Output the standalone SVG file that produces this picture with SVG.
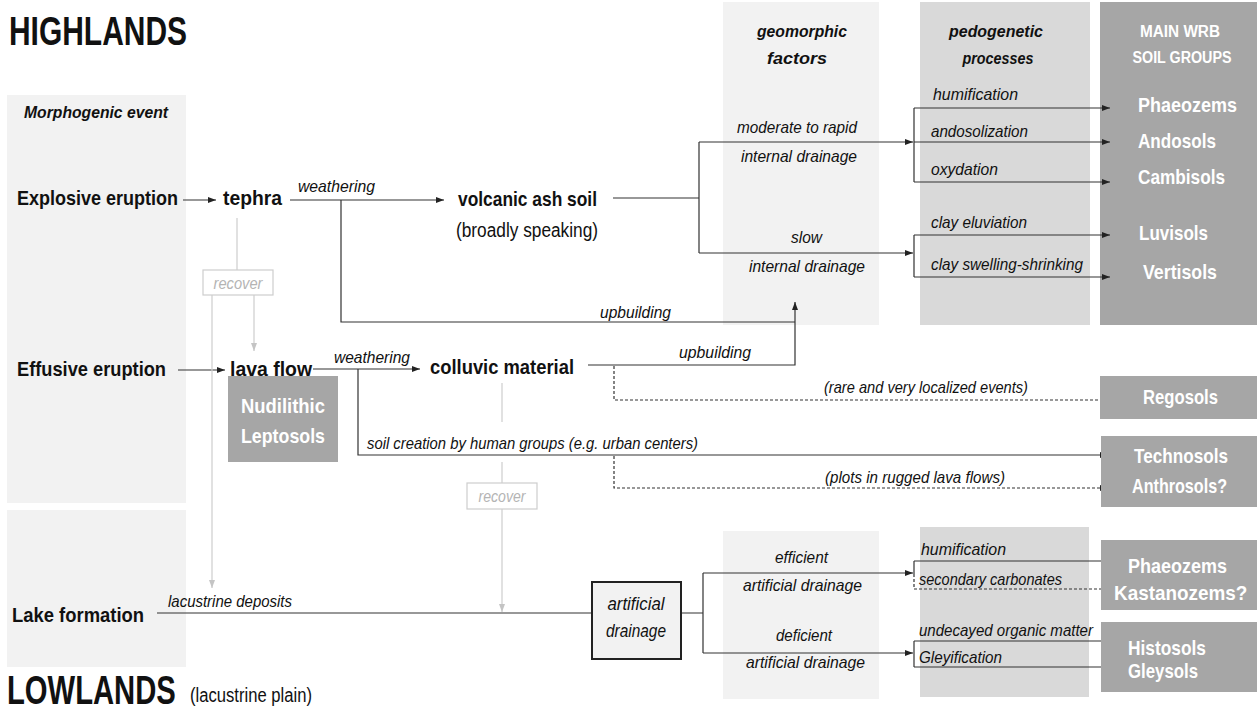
<svg xmlns="http://www.w3.org/2000/svg" width="1257" height="711" viewBox="0 0 1257 711">
<defs>
<style>
text{font-family:'Liberation Sans Narrow','Liberation Sans',Arial,sans-serif;fill:#111}
.title{font-size:41px;font-weight:bold}
.b{font-size:21px;font-weight:bold}
.r{font-size:20px}
.i{font-size:17px;font-style:italic}
.bi{font-size:17px;font-weight:bold;font-style:italic}
.w{font-size:21px;font-weight:bold;fill:#fff}
.wh{font-size:16px;font-weight:bold;fill:#fff}
.g{font-size:16px;font-style:italic;fill:#b4b4b4}
.c{text-anchor:middle}
.p1{fill:#f2f2f2}
.p2{fill:#d9d9d9}
.p3{fill:#a6a6a6}
.ln{fill:none;stroke:#333;stroke-width:1.2}
.ar{marker-end:url(#ah)}
.ds{stroke-dasharray:3,2}
.gl{fill:none;stroke:#cdcdcd;stroke-width:1.2}
.ga{marker-end:url(#gh)}
.gb{fill:#fff;stroke:#cdcdcd;stroke-width:1.2}
</style>
<marker id="ah" viewBox="0 0 8 6" refX="8" refY="3" markerWidth="8" markerHeight="6" markerUnits="userSpaceOnUse" orient="auto"><path d="M0,0 L8,3 L0,6 z" fill="#222"/></marker>
<marker id="gh" viewBox="0 0 8 6" refX="8" refY="3" markerWidth="8" markerHeight="6" markerUnits="userSpaceOnUse" orient="auto"><path d="M0,0 L8,3 L0,6 z" fill="#c4c4c4"/></marker>
</defs>
<rect width="1257" height="711" fill="#fff"/>

<g id="panels">
<rect class="p1" x="7" y="95" width="179" height="408"/>
<rect class="p1" x="7" y="510" width="179" height="157"/>
<rect class="p1" x="723" y="2" width="156" height="323"/>
<rect class="p2" x="920" y="2" width="170" height="323"/>
<rect class="p3" x="1100" y="2" width="157" height="323"/>
<rect class="p1" x="723" y="531" width="156" height="168"/>
<rect class="p2" x="920" y="527" width="169" height="170"/>
</g>

<g id="titles">
<text class="title" x="9" y="45" textLength="178" lengthAdjust="spacingAndGlyphs">HIGHLANDS</text>
<text class="title" transform="translate(7,704) scale(0.713,1)">LOWLANDS</text>
<text class="r" x="190" y="702" textLength="122" lengthAdjust="spacingAndGlyphs">(lacustrine plain)</text>
<text class="bi" x="24" y="118" textLength="144" lengthAdjust="spacingAndGlyphs">Morphogenic event</text>
<text class="bi c" x="802" y="37" textLength="90" lengthAdjust="spacingAndGlyphs">geomorphic</text>
<text class="bi c" x="797" y="64" textLength="60" lengthAdjust="spacingAndGlyphs">factors</text>
<text class="bi c" x="996" y="37" textLength="94" lengthAdjust="spacingAndGlyphs">pedogenetic</text>
<text class="bi c" x="998" y="64" textLength="71" lengthAdjust="spacingAndGlyphs">processes</text>
<text class="wh c" x="1180" y="37" textLength="80" lengthAdjust="spacingAndGlyphs">MAIN WRB</text>
<text class="wh c" x="1182" y="63" textLength="99" lengthAdjust="spacingAndGlyphs">SOIL GROUPS</text>
</g>

<g id="connectors">
<path class="ln ar" d="M183,200 H216"/>
<path class="ln ar" d="M290,200 H444"/>
<path class="ln" d="M341,200 V322 H795"/>
<path class="ln ar" d="M588,365 H795 V302"/>
<path class="ln" d="M613,198 H699 M699,142 V253"/>
<path class="ln ar" d="M699,142 H913"/>
<path class="ln ar" d="M699,253 H913"/>
<path class="ln" d="M914,108 V182 M914,235 V277"/>
<path class="ln ar" d="M914,108 H1110"/>
<path class="ln ar" d="M914,142 H1110"/>
<path class="ln ar" d="M914,182 H1110"/>
<path class="ln ar" d="M914,235 H1110"/>
<path class="ln ar" d="M914,277 H1110"/>
<path class="ln ar" d="M178,370 H225"/>
<path class="ln ar" d="M313,369 H420"/>
<path class="ln ar" d="M358,369 V455 H1108"/>
<path class="ln ds ar" d="M614,366 V400 H1108"/>
<path class="ln ds ar" d="M614,456 V488 H1108"/>
<path class="gl" d="M237,218 V270"/>
<path class="gl ga" d="M212,295 V588"/>
<path class="gl ga" d="M254,295 V351"/>
<path class="gl" d="M502,383 V422 M502,462 V483"/>
<path class="gl ga" d="M502,509 V612"/>
<path class="ln" d="M157,613 H592"/>
<path class="ln" d="M682,613 H703 M703,573 V653"/>
<path class="ln ar" d="M703,573 H913"/>
<path class="ln ar" d="M703,653 H913"/>
<path class="ln" d="M914,561 V574"/>
<path class="ln ds" d="M914,574 V589"/>
<path class="ln ar" d="M914,561 H1110"/>
<path class="ln ds ar" d="M914,589 H1110"/>
<path class="ln" d="M914,641 V667"/>
<path class="ln ar" d="M914,641 H1110"/>
<path class="ln ar" d="M914,667 H1110"/>
</g>

<g id="edge-labels">
<text class="i" x="298" y="192" textLength="77" lengthAdjust="spacingAndGlyphs">weathering</text>
<text class="i" x="334" y="363" textLength="76" lengthAdjust="spacingAndGlyphs">weathering</text>
<text class="i" x="600" y="318" textLength="71" lengthAdjust="spacingAndGlyphs">upbuilding</text>
<text class="i" x="679" y="358" textLength="72" lengthAdjust="spacingAndGlyphs">upbuilding</text>
<text class="i" x="737" y="133" textLength="120" lengthAdjust="spacingAndGlyphs">moderate to rapid</text>
<text class="i" x="741" y="162" textLength="116" lengthAdjust="spacingAndGlyphs">internal drainage</text>
<text class="i" x="791" y="243" textLength="31" lengthAdjust="spacingAndGlyphs">slow</text>
<text class="i" x="749" y="272" textLength="116" lengthAdjust="spacingAndGlyphs">internal drainage</text>
<text class="i" x="933" y="100" textLength="85" lengthAdjust="spacingAndGlyphs">humification</text>
<text class="i" x="931" y="137" textLength="97" lengthAdjust="spacingAndGlyphs">andosolization</text>
<text class="i" x="931" y="175" textLength="67" lengthAdjust="spacingAndGlyphs">oxydation</text>
<text class="i" x="931" y="228" textLength="96" lengthAdjust="spacingAndGlyphs">clay eluviation</text>
<text class="i" x="931" y="270" textLength="152" lengthAdjust="spacingAndGlyphs">clay swelling-shrinking</text>
<text class="i" x="824" y="393" textLength="204" lengthAdjust="spacingAndGlyphs">(rare and very localized events)</text>
<text class="i" x="367" y="449" textLength="331" lengthAdjust="spacingAndGlyphs">soil creation by human groups (e.g. urban centers)</text>
<text class="i" x="825" y="483" textLength="180" lengthAdjust="spacingAndGlyphs">(plots in rugged lava flows)</text>
<text class="i" x="168" y="607" textLength="124" lengthAdjust="spacingAndGlyphs">lacustrine deposits</text>
<text class="i" x="775" y="563" textLength="53" lengthAdjust="spacingAndGlyphs">efficient</text>
<text class="i" x="743" y="591" textLength="119" lengthAdjust="spacingAndGlyphs">artificial drainage</text>
<text class="i" x="776" y="641" textLength="56" lengthAdjust="spacingAndGlyphs">deficient</text>
<text class="i" x="746" y="668" textLength="119" lengthAdjust="spacingAndGlyphs">artificial drainage</text>
<text class="i" x="921" y="555" textLength="85" lengthAdjust="spacingAndGlyphs">humification</text>
<text class="i" x="919" y="585" textLength="143" lengthAdjust="spacingAndGlyphs">secondary carbonates</text>
<text class="i" x="919" y="636" textLength="174" lengthAdjust="spacingAndGlyphs">undecayed organic matter</text>
<text class="i" x="919" y="663" textLength="83" lengthAdjust="spacingAndGlyphs">Gleyification</text>
</g>

<g id="node-explosive"><text class="b" x="17" y="205" textLength="161" lengthAdjust="spacingAndGlyphs">Explosive eruption</text></g>
<g id="node-tephra"><text class="b" x="223" y="205" textLength="59" lengthAdjust="spacingAndGlyphs">tephra</text></g>
<g id="node-volcanic-ash-soil">
<text class="b" x="458" y="206" textLength="139" lengthAdjust="spacingAndGlyphs">volcanic ash soil</text>
<text class="r" x="456" y="237" textLength="142" lengthAdjust="spacingAndGlyphs">(broadly speaking)</text>
</g>
<g id="node-effusive"><text class="b" x="17" y="376" textLength="149" lengthAdjust="spacingAndGlyphs">Effusive eruption</text></g>
<g id="node-lava-flow"><text class="b" x="230" y="376" textLength="82" lengthAdjust="spacingAndGlyphs">lava flow</text></g>
<g id="node-leptosols">
<rect class="p3" x="228" y="376" width="110" height="86"/>
<text class="w c" x="283" y="413" textLength="84" lengthAdjust="spacingAndGlyphs">Nudilithic</text>
<text class="w c" x="283" y="443" textLength="84" lengthAdjust="spacingAndGlyphs">Leptosols</text>
</g>
<g id="node-colluvic"><text class="b" x="430" y="374" textLength="144" lengthAdjust="spacingAndGlyphs">colluvic material</text></g>
<g id="node-recover-1">
<rect class="gb" x="203" y="270" width="70" height="25"/>
<text class="g c" x="238" y="289" textLength="49" lengthAdjust="spacingAndGlyphs">recover</text>
</g>
<g id="node-recover-2">
<rect class="gb" x="467" y="483" width="70" height="26"/>
<text class="g c" x="502" y="502" textLength="47" lengthAdjust="spacingAndGlyphs">recover</text>
</g>
<g id="node-lake"><text class="b" x="12" y="622" textLength="132" lengthAdjust="spacingAndGlyphs">Lake formation</text></g>
<g id="node-artificial-drainage">
<rect x="592" y="582" width="89" height="77" fill="#f2f2f2" stroke="#222" stroke-width="2"/>
<text class="i c" x="636" y="610" style="font-size:18px" textLength="57" lengthAdjust="spacingAndGlyphs">artificial</text>
<text class="i c" x="636" y="637" style="font-size:18px" textLength="60" lengthAdjust="spacingAndGlyphs">drainage</text>
</g>

<g id="node-wrb-upper">
<text class="w" x="1138" y="112" textLength="99" lengthAdjust="spacingAndGlyphs">Phaeozems</text>
<text class="w" x="1138" y="148" textLength="78" lengthAdjust="spacingAndGlyphs">Andosols</text>
<text class="w" x="1138" y="184" textLength="87" lengthAdjust="spacingAndGlyphs">Cambisols</text>
<text class="w" x="1139" y="240" textLength="69" lengthAdjust="spacingAndGlyphs">Luvisols</text>
<text class="w" x="1143" y="279" textLength="74" lengthAdjust="spacingAndGlyphs">Vertisols</text>
</g>
<g id="node-regosols">
<rect class="p3" x="1100" y="376" width="157" height="43"/>
<text class="w" x="1143" y="404" textLength="75" lengthAdjust="spacingAndGlyphs">Regosols</text>
</g>
<g id="node-technosols">
<rect class="p3" x="1101" y="436" width="156" height="71"/>
<text class="w" x="1134" y="463" textLength="94" lengthAdjust="spacingAndGlyphs">Technosols</text>
<text class="w" x="1132" y="493" textLength="95" lengthAdjust="spacingAndGlyphs">Anthrosols?</text>
</g>
<g id="node-phaeozems-kastanozems">
<rect class="p3" x="1101" y="540" width="156" height="70"/>
<text class="w" x="1128" y="573" textLength="99" lengthAdjust="spacingAndGlyphs">Phaeozems</text>
<text class="w" transform="translate(1114,600) scale(0.9,1)">Kastanozems?</text>
</g>
<g id="node-histosols-gleysols">
<rect class="p3" x="1101" y="622" width="156" height="70"/>
<text class="w" x="1128" y="655" textLength="78" lengthAdjust="spacingAndGlyphs">Histosols</text>
<text class="w" x="1128" y="678" textLength="70" lengthAdjust="spacingAndGlyphs">Gleysols</text>
</g>
</svg>
